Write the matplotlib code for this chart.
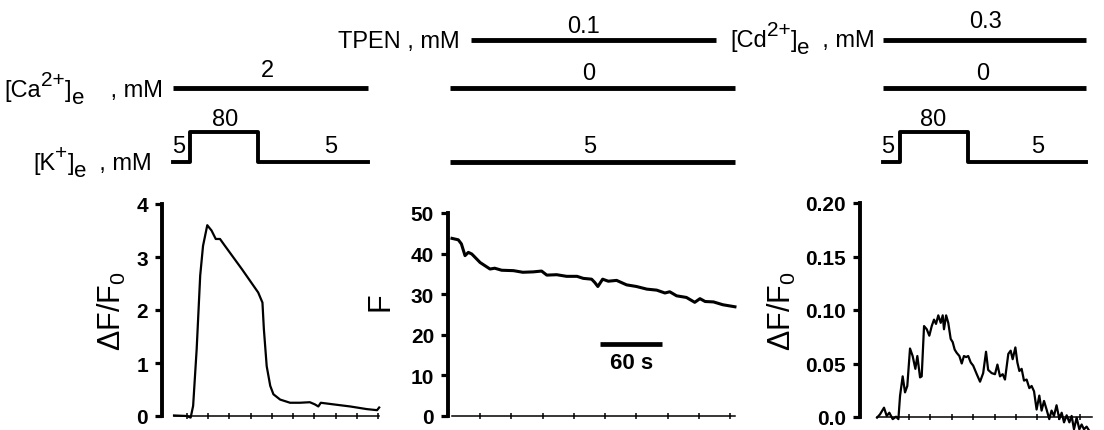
import numpy as np
import matplotlib.pyplot as plt
from matplotlib.transforms import ScaledTranslation

plt.rcParams['font.family'] = ['Liberation Sans', 'DejaVu Sans']
plt.rcParams['mathtext.default'] = 'regular'

W, H = 1104, 431

# ---- traces (time in s) ----
T_KCL = [0, 18, 23.5, 27, 32, 37, 41, 47, 53, 59, 65, 72, 84, 96, 107.5, 119,
         125, 127, 131, 136, 140.5, 150, 164, 178, 192, 199, 204, 207.5, 225,
         249, 272.5, 287, 290]
DFF_KCL = [0.01, 0.0, -0.03, 0.19, 1.26, 2.65, 3.21, 3.6, 3.5, 3.34, 3.34, 3.21,
           2.99, 2.77, 2.55, 2.33, 2.14, 1.64, 0.94, 0.57, 0.41, 0.31, 0.25,
           0.25, 0.26, 0.22, 0.18, 0.25, 0.22, 0.18, 0.13, 0.11, 0.16]

T_TPEN = [0, 6, 9, 12.5, 15.7, 19, 27, 36.5, 41, 47.7, 59, 68, 78, 86, 91,
          100.5, 110, 120, 126, 134, 137, 140, 144.6, 150, 158, 167.6, 177,
          187, 196.5, 204.4, 209, 215.6, 225, 233, 238, 243, 251, 260, 271.6]
F_TPEN = [43.75, 43.4, 42.4, 39.5, 40.3, 39.9, 37.8, 36.2, 36.4, 35.9, 35.8,
          35.4, 35.5, 35.7, 34.7, 34.8, 34.4, 34.4, 33.9, 33.7, 32.9, 31.9,
          33.7, 33.2, 33.4, 32.3, 31.9, 31.25, 31.0, 30.3, 30.6, 29.6, 29.2,
          28.0, 28.9, 28.2, 28.1, 27.4, 26.9]

T_CD = [0, 4.2, 9.8, 13.6, 17.3, 22, 26.7, 30, 32.3, 36, 39.3, 42.5, 46.3, 50,
        53.8, 56.6, 60.4, 62.7, 66, 69.8, 73.4, 76.8, 80, 82.8, 86, 89.4, 92.2,
        94, 97, 100, 103.4, 106.2, 109, 111.8, 115.6, 118.9, 122, 125, 128,
        131.5, 135, 140, 144.6, 149, 153, 156, 161, 165.6, 169, 172.6, 176.4,
        179.6, 184.3, 187.6, 190.4, 194.2, 197, 199.8, 203, 206.3, 210, 213.8,
        217, 220.4, 224, 227.8, 231, 234.4, 238, 241.8, 245, 248.4, 252, 255.9,
        259.2, 262.5, 266.2, 270, 273.2, 276.5, 280.2, 284, 287.2, 290.5,
        294.2, 298]
DFF_CD = [-0.0006, 0.0025, 0.0087, 0.001, 0.004, -0.002, 0.0003, -0.002,
          0.0197, 0.038, 0.023, 0.029, 0.064, 0.057, 0.045, 0.057, 0.037,
          0.038, 0.085, 0.082, 0.076, 0.085, 0.091, 0.087, 0.095, 0.088, 0.095,
          0.082, 0.095, 0.088, 0.073, 0.07, 0.063, 0.06, 0.057, 0.05, 0.057,
          0.056, 0.057, 0.051, 0.048, 0.04, 0.033, 0.041, 0.061, 0.044, 0.041,
          0.04, 0.049, 0.038, 0.04, 0.035, 0.059, 0.062, 0.054, 0.065, 0.051,
          0.043, 0.045, 0.034, 0.035, 0.027, 0.029, 0.024, 0.007, 0.02, 0.006,
          0.015, 0.007, -0.002, 0.006, 0.001, 0.011, -0.002, 0.004, -0.005,
          0.0016, -0.005, 0.001, -0.0115, -0.0006, -0.0115, -0.007, -0.0115,
          -0.009, -0.013]

# ---- time axes and ticks ----
AXIS_END = [290, 272, 302]
TICK_START = [18.4, 27, 45]
N_TICKS = [10, 9, 9]

# ---- protocol (solution) timing, s ----
KCL_ON = [22.6, 119]          # 80 mM K+ in panel 1
KCL_ON_CD = [32, 128]         # 80 mM K+ in panel 3
LINE_SPAN = [(-1.4, 274), (-2, 272), (8.4, 293)]
TPEN_SPAN = (18, 253)
CD_SPAN = (8.4, 293)
SCALE_BAR = (142, 60)         # start, length (s)

YTICKS = [[0, 1, 2, 3, 4], [0, 10, 20, 30, 40, 50],
          [0, 0.05, 0.10, 0.15, 0.20]]
YTICK_LABELS = [['0', '1', '2', '3', '4'], ['0', '10', '20', '30', '40', '50'],
                ['0.0', '0.05', '0.10', '0.15', '0.20']]
YLABELS = ['ΔF/F$_0$', 'F', 'ΔF/F$_0$']

# pixel boxes: left, top(ymax), right, bottom(y=0), xlim
BOXES = [(162, 205, 382, 417, (-17, 294)),
         (448, 214, 736, 417, (-3.84, 272.6)),
         (860, 204, 1100, 418, (-23.9, 313))]
YLABEL_POS = [(-0.155, 0.5), (-0.184, 0.57), (-0.26, 0.5)]


def rect(l, t, r, b):
    return [l / W, 1 - b / H, (r - l) / W, (b - t) / H]


fig = plt.figure(figsize=(W / 100, H / 100), dpi=100)

traces = [(T_KCL, DFF_KCL, 1.6), (T_TPEN, F_TPEN, 2.2), (T_CD, DFF_CD, 1.6)]
axes = []
for i, (l, t, r, b, xl) in enumerate(BOXES):
    ax = fig.add_axes(rect(l, t, r, b))
    tt, yy, lw = traces[i]
    ax.plot(tt, yy, color='black', lw=lw, clip_on=False, zorder=3)
    # thin time axis with small cross ticks
    ax.plot([0, AXIS_END[i]], [0, 0], color='black', lw=1.1, clip_on=False)
    tks = TICK_START[i] + 30 * np.arange(N_TICKS[i])
    ax.plot(tks, np.zeros_like(tks), ls='none', marker='|', ms=5, mew=1.1,
            color='black', clip_on=False)
    ax.set_xlim(*xl)
    ax.set_ylim(YTICKS[i][0], YTICKS[i][-1])
    ax.set_yticks(YTICKS[i])
    ax.set_yticklabels(YTICK_LABELS[i], fontsize=15, fontweight='bold')
    ax.tick_params(axis='y', direction='out', length=5, width=2.3, pad=5)
    ax.set_xticks([])
    for s in ['top', 'right', 'bottom']:
        ax.spines[s].set_visible(False)
    ax.spines['left'].set_linewidth(2.8)
    ax.patch.set_alpha(0)
    ax.set_ylabel(YLABELS[i], fontsize=22)
    ax.yaxis.set_label_coords(*YLABEL_POS[i])
    axes.append(ax)

# 60 s scale bar
ax2 = axes[1]
ax2.plot([SCALE_BAR[0], SCALE_BAR[0] + SCALE_BAR[1]], [17.7, 17.7],
         color='black', lw=3.4, solid_capstyle='butt')
ax2.text(SCALE_BAR[0] + SCALE_BAR[1] / 2, 13.3, '%d s' % SCALE_BAR[1],
         ha='center', va='center', fontsize=16, fontweight='bold')

# protocol rows above each panel (rows in px from top)
ROW_TOP, ROW_CA, ROW_KHI, ROW_KLO = 41, 89, 133, 163
prot = []
for i, (l, t, r, b, xl) in enumerate(BOXES):
    pa = fig.add_axes(rect(l, 0, r, 180), sharex=axes[i])
    pa.set_ylim(180, 0)
    pa.axis('off')
    prot.append(pa)

FS = 17
lw_thick, lw_step = 3.5, 2.8
renderer = fig.canvas.get_renderer()


def ion_label(ax, x, y, ion, charge, gap=2):
    """Right-aligned '[ion^charge]_e , mM' built from pieces so the
    superscript keeps a readable size."""
    parts = [('[' + ion, FS, 0), (charge, 15, 8), (']', FS, 0),
             ('e', 16, -5), (' ' * gap + ', mM', FS, 0)]
    items = []
    for s, size, dy in parts:
        t = ax.text(x, y, s, fontsize=size, ha='left', va='baseline')
        items.append((t, dy, t.get_window_extent(renderer).width))
    off = -sum(w for _, _, w in items)
    for t, dy, w in items:
        t.set_transform(ax.transData + ScaledTranslation(
            off / fig.dpi, dy / 72, fig.dpi_scale_trans))
        off += w


def kstep(pa, span, on):
    x = [span[0], on[0], on[0], on[1], on[1], span[1]]
    y = [ROW_KLO, ROW_KLO, ROW_KHI, ROW_KHI, ROW_KLO, ROW_KLO]
    pa.plot(x, y, color='black', lw=lw_step, clip_on=False)


# panel 1: high K+ in 2 mM Ca2+
p = prot[0]
p.plot(LINE_SPAN[0], [ROW_CA] * 2, color='black', lw=lw_thick,
       solid_capstyle='butt')
kstep(p, LINE_SPAN[0], KCL_ON)
ion_label(p, -15.6, 97, 'Ca', '2+', gap=4)
ion_label(p, -31, 170, 'K', '+')
p.text(131.5, 77, '2', ha='center', va='baseline', fontsize=FS)
p.text(72, 126, '80', ha='center', va='baseline', fontsize=FS)
p.text(7, 153, '5', ha='center', va='baseline', fontsize=FS)
p.text(221, 153, '5', ha='center', va='baseline', fontsize=FS)

# panel 2: TPEN in Ca-free, 5 mM K+
p = prot[1]
p.plot(TPEN_SPAN, [ROW_TOP] * 2, color='black', lw=lw_thick,
       solid_capstyle='butt')
p.plot(LINE_SPAN[1], [ROW_CA] * 2, color='black', lw=lw_thick,
       solid_capstyle='butt')
p.plot(LINE_SPAN[1], [ROW_KLO] * 2, color='black', lw=lw_thick,
       solid_capstyle='butt')
p.text(7.7, 48, 'TPEN , mM', ha='right', va='baseline', fontsize=FS)
p.text(126, 33, '0.1', ha='center', va='baseline', fontsize=FS)
p.text(131.5, 80, '0', ha='center', va='baseline', fontsize=FS)
p.text(132.5, 153, '5', ha='center', va='baseline', fontsize=FS)

# panel 3: Cd2+ with high K+ in Ca-free
p = prot[2]
p.plot(CD_SPAN, [ROW_TOP] * 2, color='black', lw=lw_thick,
       solid_capstyle='butt')
p.plot(LINE_SPAN[2], [ROW_CA] * 2, color='black', lw=lw_thick,
       solid_capstyle='butt')
kstep(p, LINE_SPAN[2], KCL_ON_CD)
ion_label(p, -2.8, 47, 'Cd', '2+')
p.text(152.6, 28, '0.3', ha='center', va='baseline', fontsize=FS)
p.text(149, 80, '0', ha='center', va='baseline', fontsize=FS)
p.text(78.6, 126, '80', ha='center', va='baseline', fontsize=FS)
p.text(15.4, 153, '5', ha='center', va='baseline', fontsize=FS)
p.text(226, 153, '5', ha='center', va='baseline', fontsize=FS)

fig.savefig('out.png', dpi=100)
